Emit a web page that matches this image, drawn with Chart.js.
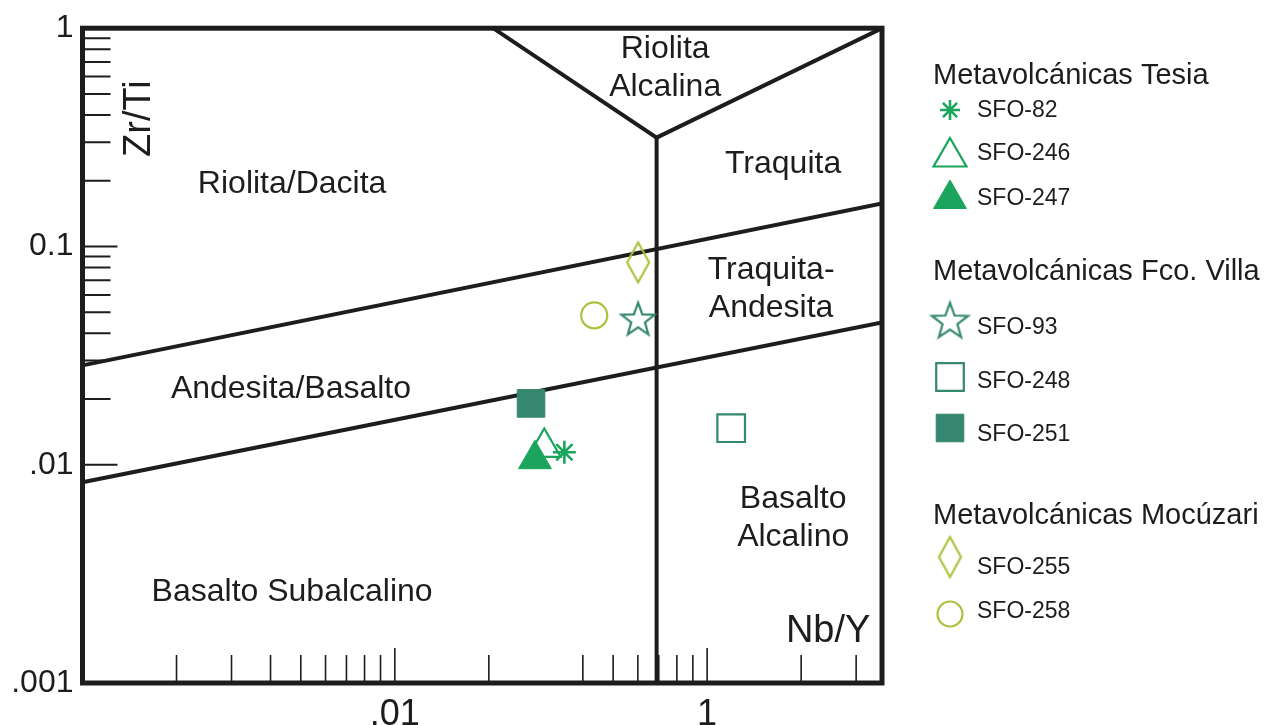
<!DOCTYPE html>
<html lang="es">
<head>
<meta charset="utf-8">
<title>Zr/Ti vs Nb/Y</title>
<script src="https://cdn.jsdelivr.net/npm/chart.js@4.4.1/dist/chart.umd.min.js"></script>
<style>
  html, body { margin: 0; padding: 0; background: #ffffff; }
  #wrap { width: 1280px; height: 725px; position: relative; }
</style>
</head>
<body>
<div id="wrap"><canvas id="diagram" width="1280" height="725"></canvas></div>
<script>
// ---- Muestras ----
const samples = ['SFO-82', 'SFO-246', 'SFO-247', 'SFO-93', 'SFO-248', 'SFO-251', 'SFO-255', 'SFO-258'];
const groups = ['Metavolcánicas Tesia', 'Metavolcánicas Fco. Villa', 'Metavolcánicas Mocúzari'];
const sampleGroup = [0, 0, 0, 1, 1, 1, 2, 2];
const nbY  = [0.349, 0.301, 0.281, 0.601, 1.194, 0.273, 0.601, 0.435];
const zrTi = [0.0114, 0.0120, 0.0106, 0.0468, 0.0147, 0.0191, 0.0845, 0.0483];

// ---- Límites de los campos (Nb/Y, Zr/Ti) ----
const limitVX = [0.2064, 0.689, 3.63];       // riolita alcalina
const limitVY = [1, 0.3153, 1];
const limitAlkX = [0.689, 0.689];            // límite alcalino
const limitAlkY = [0.3153, 0.001];
const limitUpperX = [0.01, 3.63];
const limitUpperY = [0.02853, 0.1573];
const limitLowerX = [0.01, 3.63];
const limitLowerY = [0.00832, 0.0449];

// ---- Nombres de los campos ----
const fieldNames = [['Riolita', 'Alcalina'], ['Riolita/Dacita'], ['Traquita'], ['Traquita-', 'Andesita'],
                    ['Andesita/Basalto'], ['Basalto', 'Alcalino'], ['Basalto Subalcalino']];
const fieldNbY  = [0.734, 0.0469, 1.751, 1.603, 0.0465, 1.886, 0.0469];
const fieldZrTi = [0.653, 0.1922, 0.2373, 0.0636, 0.02216, 0.00569, 0.00261];

// ---- Ejes ----
const xTitle = 'Nb/Y';
const yTitle = 'Zr/Ti';
const xTitlePos = [2.44, 0.00173];
const yTitlePos = [0.01524, 0.3853];
const xMin = 0.01, xMax = 3.63, yMin = 0.001, yMax = 1;
const xTickValues = [0.1, 1];
const xTickLabels = ['.01', '1'];
const yTickValues = [0.001, 0.01, 0.1, 1];
const yTickLabels = ['.001', '.01', '0.1', '1'];
const xMinorTicks = [0.02, 0.03, 0.04, 0.05, 0.06, 0.07, 0.08, 0.09, 0.2, 0.4, 0.5, 0.6, 0.7, 0.8, 0.9, 2, 3];
const yMinorTicks = [0.02, 0.03, 0.04, 0.05, 0.06, 0.07, 0.08, 0.09, 0.2, 0.3, 0.4, 0.5, 0.6, 0.7, 0.8, 0.9];

// ---- Estilos ----
const INK = '#1d1d1d';
const GREEN = '#1ba55c';
const TEAL = '#35876f';
const OLIVE = '#a9c33c';
const FONT = '"Liberation Sans", Arial, Helvetica, sans-serif';

function starCanvas(color, outer, inner, lw) {
  const s = Math.ceil(2 * outer + 2 * lw + 2);
  const c = document.createElement('canvas');
  c.width = s; c.height = s;
  const g = c.getContext('2d');
  const shift = (outer - outer * Math.cos(Math.PI / 5)) / 2;
  g.translate(s / 2, s / 2 + shift);
  g.beginPath();
  for (let i = 0; i < 10; i++) {
    const r = i % 2 ? inner : outer;
    const a = -Math.PI / 2 + i * Math.PI / 5;
    g.lineTo(r * Math.cos(a), r * Math.sin(a));
  }
  g.closePath();
  g.lineJoin = 'miter';
  g.strokeStyle = color;
  g.lineWidth = lw;
  g.stroke();
  return c;
}

function diamondCanvas(color, w, h, lw) {
  const cw = Math.ceil(w + 2 * lw + 2), ch = Math.ceil(h + 2 * lw + 2);
  const c = document.createElement('canvas');
  c.width = cw; c.height = ch;
  const g = c.getContext('2d');
  g.translate(cw / 2, ch / 2);
  g.beginPath();
  g.moveTo(0, -h / 2); g.lineTo(w / 2, 0); g.lineTo(0, h / 2); g.lineTo(-w / 2, 0);
  g.closePath();
  g.strokeStyle = color;
  g.lineWidth = lw;
  g.stroke();
  return c;
}

// order: valores menores se pintan encima
const markerStyles = [
  { pointStyle: 'star', radius: 11.5, legendRadius: 10, stroke: GREEN, fill: 'rgba(0,0,0,0)', lw: 2.6, order: 1 },
  { pointStyle: 'triangle', radius: 19, legendRadius: 19, stroke: GREEN, fill: '#ffffff', lw: 2.2, order: 3 },
  { pointStyle: 'triangle', radius: 19, legendRadius: 19, stroke: GREEN, fill: GREEN, lw: 1, order: 2 },
  { pointStyle: starCanvas(TEAL, 17.5, 7.2, 2.2), legendStyle: starCanvas(TEAL, 19, 7.8, 2.2), radius: 12, stroke: TEAL, fill: 'rgba(0,0,0,0)', lw: 0, order: 1 },
  { pointStyle: 'rect', radius: 19.5, legendRadius: 19.5, stroke: TEAL, fill: 'rgba(0,0,0,0)', lw: 2.2, order: 1 },
  { pointStyle: 'rect', radius: 19.5, legendRadius: 19.5, stroke: TEAL, fill: TEAL, lw: 1, order: 1 },
  { pointStyle: diamondCanvas(OLIVE, 22, 40, 2.2), radius: 12, stroke: OLIVE, fill: 'rgba(0,0,0,0)', lw: 0, order: 1 },
  { pointStyle: 'circle', radius: 13, legendRadius: 12.5, stroke: OLIVE, fill: 'rgba(0,0,0,0)', lw: 2.2, order: 1 }
];

function boundary(label, xs, ys) {
  return {
    label, type: 'scatter', showLine: true, order: 10,
    data: xs.map((v, i) => ({ x: v, y: ys[i] })),
    borderColor: INK, borderWidth: 4, pointRadius: 0, tension: 0, fill: false
  };
}

const datasets = [
  boundary('lim-v', limitVX, limitVY),
  boundary('lim-alk', limitAlkX, limitAlkY),
  boundary('lim-sup', limitUpperX, limitUpperY),
  boundary('lim-inf', limitLowerX, limitLowerY)
];
samples.forEach((name, i) => {
  const st = markerStyles[i];
  datasets.push({
    label: name,
    order: st.order,
    data: [{ x: nbY[i], y: zrTi[i] }],
    pointStyle: st.pointStyle,
    pointRadius: st.radius,
    pointBorderWidth: st.lw,
    pointBorderColor: st.stroke,
    pointBackgroundColor: st.fill,
    showLine: false
  });
});

function fallbackDrawPoint(ctx, o, x, y) {
  const s = o.pointStyle, r = o.radius;
  if (typeof s === 'object') { ctx.drawImage(s, x - s.width / 2, y - s.height / 2); return; }
  ctx.beginPath();
  if (s === 'circle') ctx.arc(x, y, r, 0, Math.PI * 2);
  else if (s === 'rect') { const h = r * Math.SQRT1_2; ctx.rect(x - h, y - h, 2 * h, 2 * h); }
  else if (s === 'triangle') {
    for (let k = 0; k < 3; k++) { const a = k * 2 * Math.PI / 3; ctx.lineTo(x + Math.sin(a) * r, y - Math.cos(a) * r); }
    ctx.closePath();
  } else if (s === 'star') {
    for (let k = 0; k < 4; k++) { const a = k * Math.PI / 4; ctx.moveTo(x - Math.cos(a) * r, y - Math.sin(a) * r); ctx.lineTo(x + Math.cos(a) * r, y + Math.sin(a) * r); }
  }
  ctx.fill();
  if (o.borderWidth > 0) ctx.stroke();
}
const paintPoint = (Chart.helpers && Chart.helpers.drawPoint) ? Chart.helpers.drawPoint : fallbackDrawPoint;

// Marcas, nombres de campos, marco y leyenda agrupada
const diagramDecor = {
  id: 'diagramDecor',
  beforeDatasetsDraw(chart) {
    const { ctx, chartArea: a, scales } = chart;
    const sx = scales.x, sy = scales.y;
    ctx.save();
    ctx.strokeStyle = INK;
    ctx.lineCap = 'butt';
    // marcas del eje X (hacia dentro)
    ctx.lineWidth = 1.6;
    ctx.beginPath();
    xMinorTicks.forEach(v => { const p = sx.getPixelForValue(v); ctx.moveTo(p, a.bottom); ctx.lineTo(p, a.bottom - 28); });
    xTickValues.forEach(v => { const p = sx.getPixelForValue(v); ctx.moveTo(p, a.bottom); ctx.lineTo(p, a.bottom - 35); });
    ctx.stroke();
    // marcas del eje Y
    ctx.lineWidth = 2;
    ctx.beginPath();
    yMinorTicks.forEach(v => { const p = sy.getPixelForValue(v); ctx.moveTo(a.left, p); ctx.lineTo(a.left + 28, p); });
    yTickValues.forEach(v => { const p = sy.getPixelForValue(v); ctx.moveTo(a.left, p); ctx.lineTo(a.left + 35, p); });
    ctx.stroke();

    // nombres de los campos
    ctx.fillStyle = INK;
    ctx.textAlign = 'center';
    ctx.textBaseline = 'middle';
    ctx.font = '32px ' + FONT;
    fieldNames.forEach((lines, i) => {
      const cx = sx.getPixelForValue(fieldNbY[i]);
      const cy = sy.getPixelForValue(fieldZrTi[i]);
      lines.forEach((t, k) => ctx.fillText(t, cx, cy + (k - (lines.length - 1) / 2) * 38));
    });

    // títulos de ejes
    ctx.font = '38px ' + FONT;
    ctx.fillText(xTitle, sx.getPixelForValue(xTitlePos[0]), sy.getPixelForValue(xTitlePos[1]));
    ctx.save();
    ctx.translate(sx.getPixelForValue(yTitlePos[0]), sy.getPixelForValue(yTitlePos[1]));
    ctx.rotate(-Math.PI / 2);
    ctx.fillText(yTitle, 0, 0);
    ctx.restore();
    ctx.restore();
  },
  afterDatasetsDraw(chart) {
    const { ctx, chartArea: a } = chart;
    ctx.save();
    ctx.strokeStyle = INK;
    ctx.lineWidth = 5;
    ctx.lineJoin = 'miter';
    ctx.strokeRect(a.left, a.top, a.right - a.left, a.bottom - a.top);
    ctx.restore();
  },
  afterDraw(chart) {
    const ctx = chart.ctx;
    const headerX = 933, markerX = 950, textX = 977;
    const headerY = [76, 272, 516];
    const itemTextY = [111, 154, 199, 328, 382, 435, 568, 612];
    const itemMarkY = [110, 157, 199, 320, 377, 428, 557, 614];
    ctx.save();
    ctx.fillStyle = INK;
    ctx.textAlign = 'left';
    ctx.textBaseline = 'middle';
    ctx.font = '29px ' + FONT;
    groups.forEach((g, k) => ctx.fillText(g, headerX, headerY[k]));
    samples.forEach((name, i) => {
      const st = markerStyles[i];
      ctx.save();
      ctx.fillStyle = st.fill;
      ctx.strokeStyle = st.stroke;
      ctx.lineWidth = st.lw;
      paintPoint(ctx, {
        pointStyle: st.legendStyle || st.pointStyle,
        radius: st.legendRadius || st.radius,
        rotation: 0,
        borderWidth: st.lw
      }, markerX, itemMarkY[i]);
      ctx.restore();
      ctx.fillStyle = INK;
      ctx.font = '23px ' + FONT;
      ctx.fillText(name, textX, itemTextY[i]);
    });
    ctx.restore();
  }
};

new Chart(document.getElementById('diagram'), {
  type: 'scatter',
  data: { datasets },
  options: {
    responsive: false,
    animation: false,
    devicePixelRatio: 1,
    layout: { padding: { left: 0, top: 27.5, right: 398, bottom: 0 } },
    plugins: { legend: { display: false }, tooltip: { enabled: false } },
    scales: {
      x: {
        type: 'logarithmic', min: xMin, max: xMax,
        grid: { display: false, drawTicks: false },
        border: { display: false },
        afterBuildTicks: (axis) => { axis.ticks = xTickValues.map(v => ({ value: v })); },
        afterFit: (axis) => { axis.height = 42; },
        ticks: {
          autoSkip: false, maxRotation: 0, padding: 10, color: INK,
          font: { family: FONT, size: 36 },
          callback: (v, i) => xTickLabels[i]
        }
      },
      y: {
        type: 'logarithmic', min: yMin, max: yMax,
        grid: { display: false, drawTicks: false },
        border: { display: false },
        afterBuildTicks: (axis) => { axis.ticks = yTickValues.map(v => ({ value: v })); },
        afterFit: (axis) => { axis.width = 82.5; },
        ticks: {
          autoSkip: false, padding: 9, color: INK,
          font: { family: FONT, size: 32 },
          callback: (v, i) => yTickLabels[i]
        }
      }
    }
  },
  plugins: [diagramDecor]
});
</script>
</body>
</html>
